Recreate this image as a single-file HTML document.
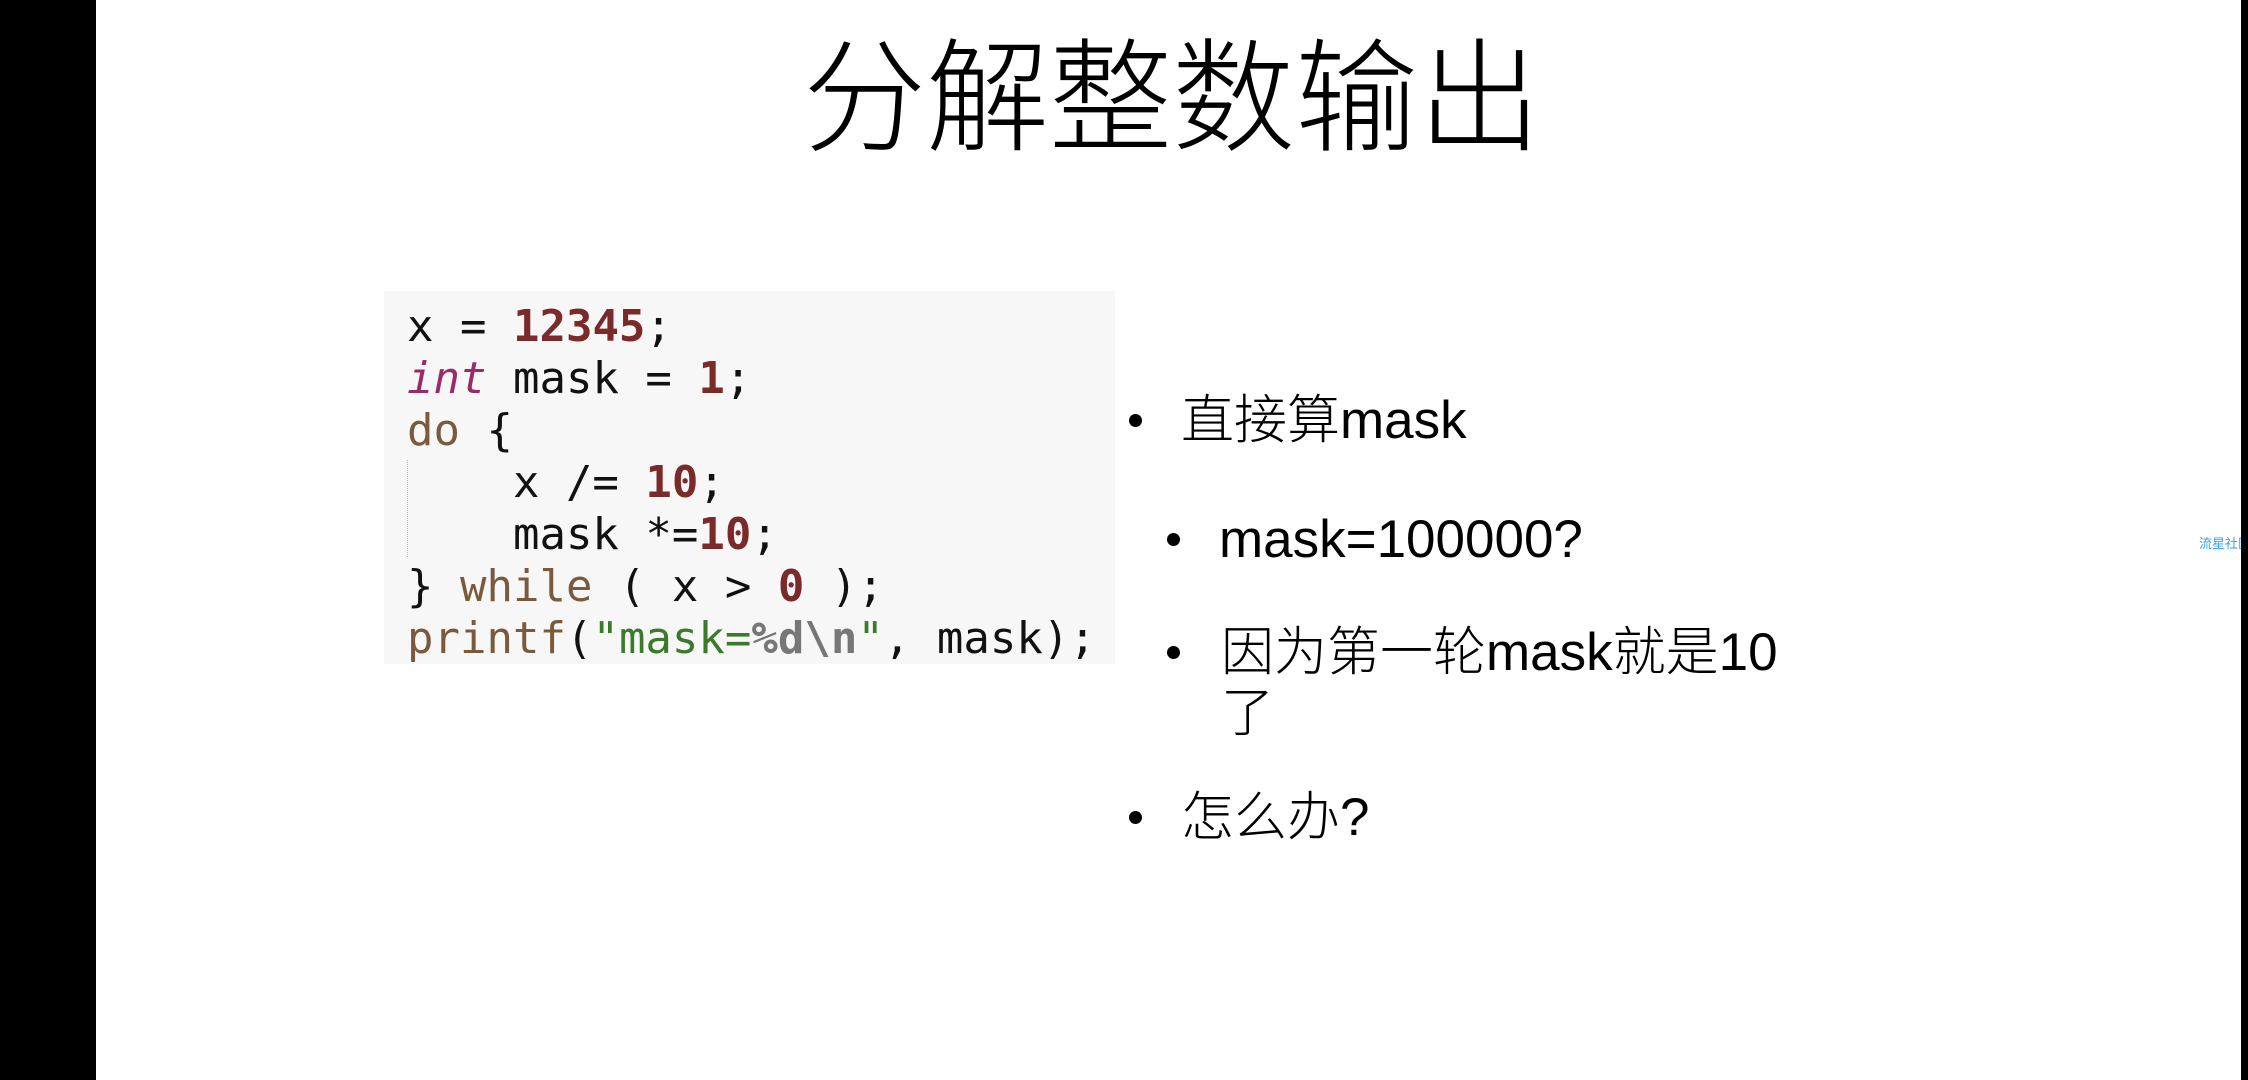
<!DOCTYPE html>
<html><head><meta charset="utf-8"><style>
body{margin:0;width:2248px;height:1080px;background:#fff;position:relative;overflow:hidden}
.bl{position:absolute;top:0;left:0;width:96px;height:1080px;background:#000}
.br{position:absolute;top:0;left:2241px;width:7px;height:1080px;background:#000}
.title{position:absolute;left:0;width:2248px;text-align:center;padding-left:96px;box-sizing:border-box;top:18px;font:300 123px/140px "Noto Sans CJK SC","Liberation Sans",sans-serif;color:#000}
.code{position:absolute;left:384px;top:291px;width:731px;height:373px;background:#f7f7f7}
.code pre{margin:0;position:absolute;left:23px;top:10px;font:44px/52px "DejaVu Sans Mono","Liberation Mono",monospace;color:#111}
.n{color:#7b2a2a;font-weight:bold}.i{color:#9b2a6b;font-style:italic}.k{color:#7a5a3c}.s{color:#3a7a2a}.g{color:#777;font-weight:bold}
.dl{position:absolute;left:23px;top:169px;height:97px;border-left:1px dotted #bbb}
.t{position:absolute;font:300 53px/61px "Liberation Sans","Noto Sans CJK SC",sans-serif;color:#000;white-space:nowrap}
.d{position:absolute;width:13px;height:13px;border-radius:50%;background:#000}
.wm{position:absolute;left:2199px;top:533px;font:13px "Liberation Sans","Noto Sans CJK SC",sans-serif;color:#3a9ff0;white-space:nowrap}
</style></head><body>
<div class="bl"></div>
<div class="title">分解整数输出</div>
<div class="code"><div class="dl"></div><pre>x = <span class="n">12345</span>;
<span class="i">int</span> mask = <span class="n">1</span>;
<span class="k">do</span> {
    x /= <span class="n">10</span>;
    mask *=<span class="n">10</span>;
} <span class="k">while</span> ( x &gt; <span class="n">0</span> );
<span class="k">printf</span>(<span class="s">"mask=<span class="g">%d\n</span>"</span>, mask);</pre></div>
<div class="d" style="left:1129px;top:414px"></div><div class="t" style="left:1181px;top:390px">直接算mask</div>
<div class="d" style="left:1167px;top:533px"></div><div class="t" style="left:1219px;top:509px">mask=100000?</div>
<div class="d" style="left:1167px;top:646px"></div><div class="t" style="left:1221px;top:622px">因为第一轮mask就是10<br>了</div>
<div class="d" style="left:1129px;top:811px"></div><div class="t" style="left:1181px;top:787px">怎么办?</div>
<div class="wm">流星社区</div>
<div class="br"></div>
</body></html>
